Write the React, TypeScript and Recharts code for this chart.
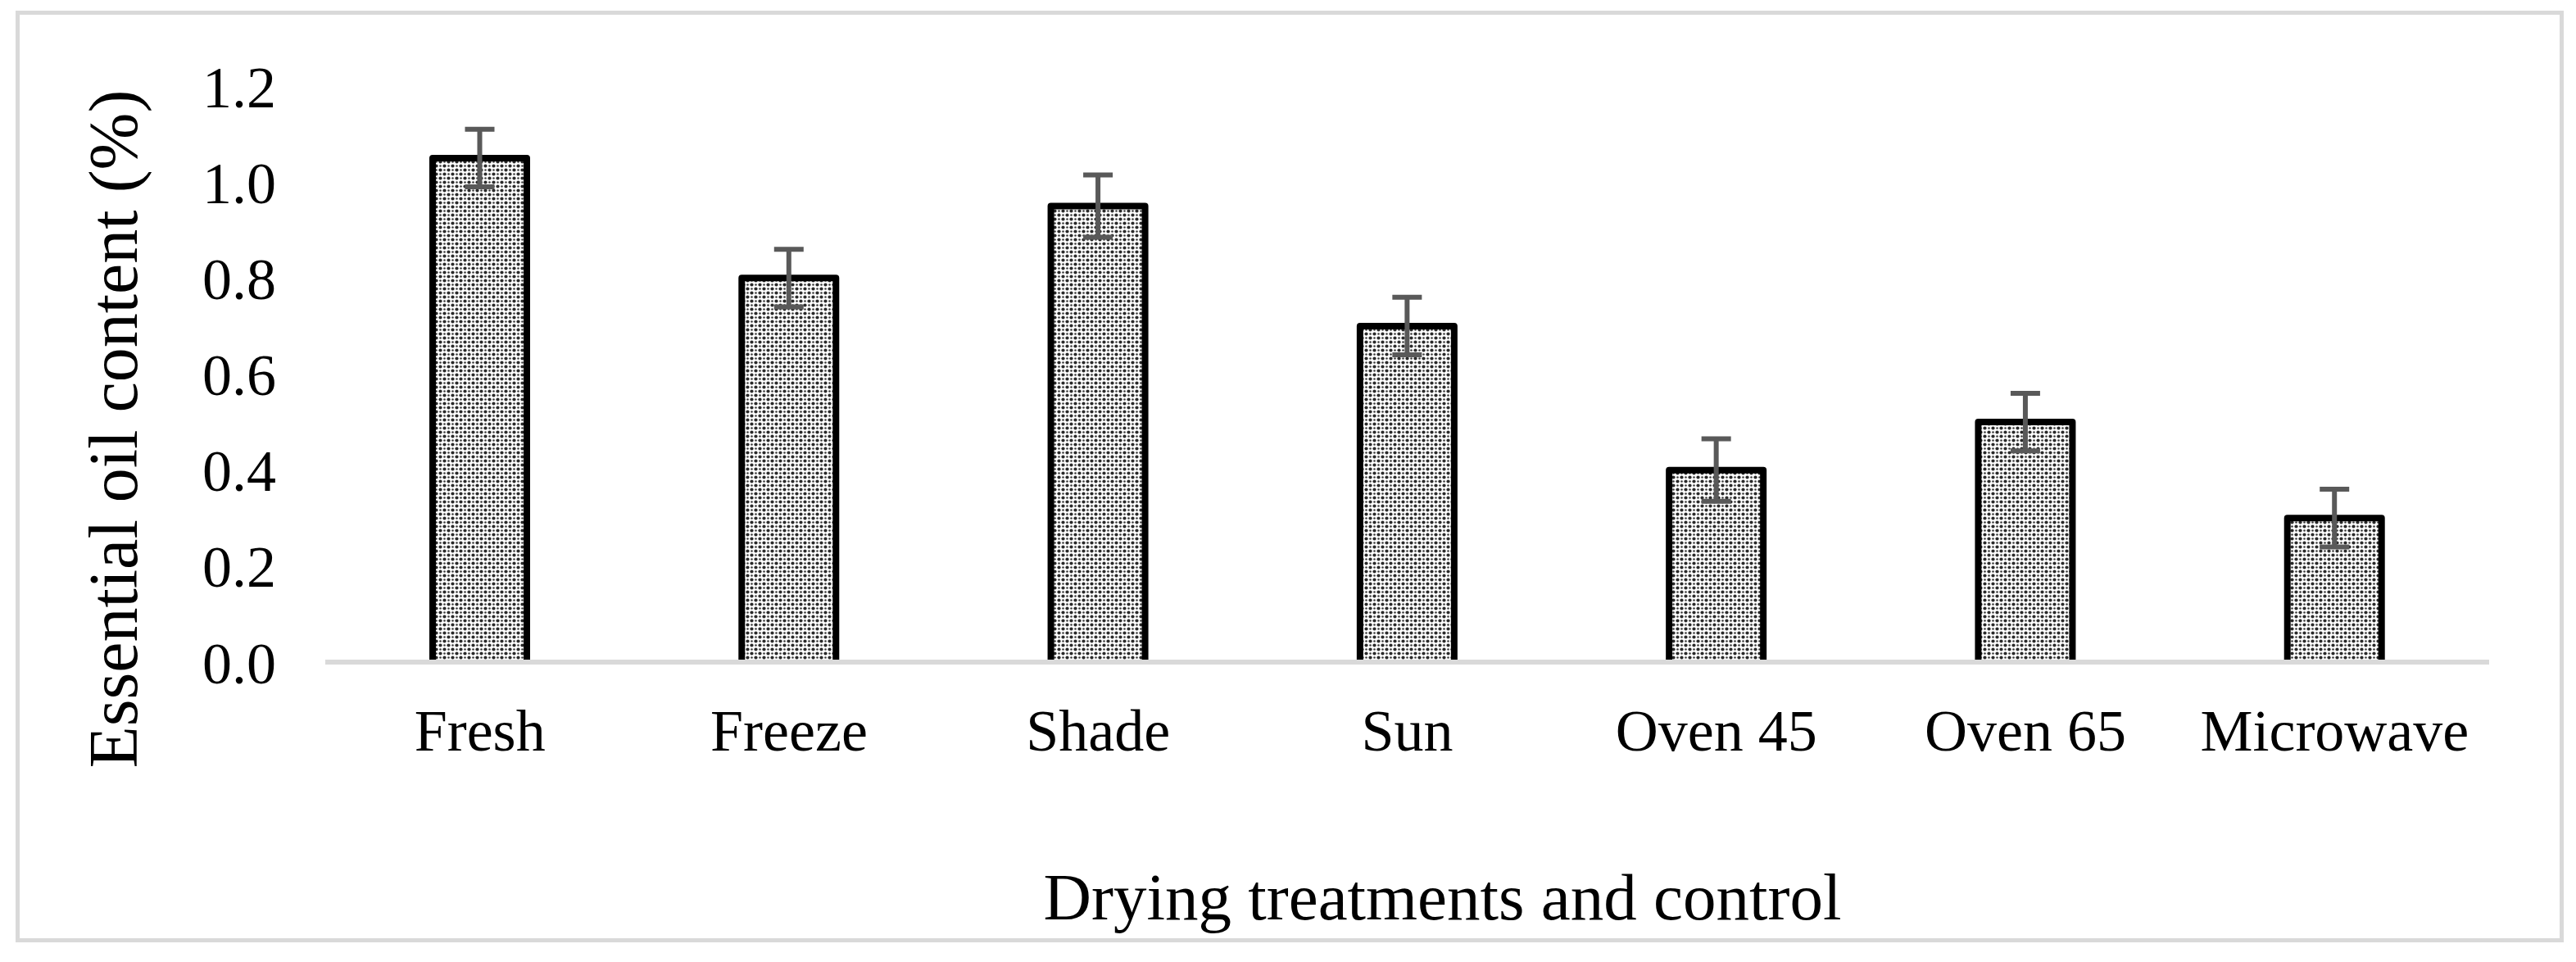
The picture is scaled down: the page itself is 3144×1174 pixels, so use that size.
import { BarChart, Bar, XAxis, YAxis, ErrorBar } from "recharts"

const categories = ["Fresh", "Freeze", "Shade", "Sun", "Oven 45", "Oven 65", "Microwave"]
const oilContent = [1.05, 0.8, 0.95, 0.7, 0.4, 0.5, 0.3]
const errValues = [0.06, 0.06, 0.065, 0.06, 0.065, 0.06, 0.06]
const yTicks = [0, 0.2, 0.4, 0.6, 0.8, 1.0, 1.2]

const chartData = categories.map((name, i) => ({
  name,
  oil: oilContent[i],
  err: errValues[i],
}))

const FONT = "'Liberation Serif', 'Times New Roman', serif"

// bar outline open at the bottom so the axis line sits on top
function OutlinedBar(props: any) {
  const { x, y, width, height } = props
  if (height <= 0) return null
  return (
    <g>
      <rect x={x} y={y} width={width} height={height} fill="url(#dotFill)" />
      <path
        d={`M${x},${y + height} L${x},${y} L${x + width},${y} L${x + width},${y + height}`}
        fill="none"
        stroke="#000"
        strokeWidth={8}
        strokeLinejoin="round"
      />
    </g>
  )
}

function YTitle(props: any) {
  const vb = props.viewBox
  const cx = 167
  const cy = vb.y + vb.height / 2 + 67
  return (
    <text
      x={cx}
      y={cy}
      transform={`rotate(-90, ${cx}, ${cy})`}
      textAnchor="middle"
      fontFamily={FONT}
      fontSize={84}
      fill="#000"
    >
      Essential oil content (%)
    </text>
  )
}

function XTitle(props: any) {
  const vb = props.viewBox
  return (
    <text
      x={vb.x + vb.width / 2 + 43}
      y={vb.y + 314}
      textAnchor="middle"
      fontFamily={FONT}
      fontSize={81}
      fill="#000"
    >
      Drying treatments and control
    </text>
  )
}

export default function App() {
  return (
    <div
      style={{
        position: "absolute",
        left: 0,
        top: 0,
        width: 3144,
        height: 1174,
        background: "#fff",
      }}
    >
      <div
        style={{
          position: "absolute",
          left: 19,
          top: 13,
          width: 3110,
          height: 1137,
          border: "5px solid #d9d9d9",
          boxSizing: "border-box",
        }}
      />
      <div style={{ position: "absolute", left: 0, top: 0 }}>
        <BarChart
          width={3144}
          height={1174}
          data={chartData}
          margin={{ top: 105, right: 106, bottom: 166, left: 0 }}
        >
          <defs>
            <pattern id="dotFill" width="10" height="10" patternUnits="userSpaceOnUse">
              <rect width="10" height="10" fill="#fff" />
              <circle cx="2.5" cy="2.5" r="2.1" fill="#2a2a2a" />
              <circle cx="7.5" cy="7.5" r="2.1" fill="#2a2a2a" />
              <circle cx="7.5" cy="2.5" r="1.3" fill="#3a3a3a" />
              <circle cx="2.5" cy="7.5" r="1.3" fill="#3a3a3a" />
            </pattern>
          </defs>
          <XAxis
            dataKey="name"
            height={200}
            tickLine={false}
            tickSize={0}
            tickMargin={57}
            axisLine={{ stroke: "#d9d9d9", strokeWidth: 6 }}
            tick={{ fontFamily: FONT, fontSize: 72, fill: "#000" }}
            interval={0}
            label={{ content: XTitle }}
          />
          <YAxis
            width={397}
            domain={[0, 1.2]}
            ticks={yTicks}
            tickFormatter={(v: number) => v.toFixed(1)}
            axisLine={false}
            tickLine={false}
            tickSize={0}
            tickMargin={60}
            tick={{ fontFamily: FONT, fontSize: 72, fill: "#000" }}
            label={{ content: YTitle }}
          />
          <Bar dataKey="oil" barSize={115} shape={OutlinedBar} isAnimationActive={false}>
            <ErrorBar
              dataKey="err"
              direction="y"
              width={18}
              stroke="#595959"
              strokeWidth={6}
              isAnimationActive={false}
            />
          </Bar>
        </BarChart>
      </div>
    </div>
  )
}
